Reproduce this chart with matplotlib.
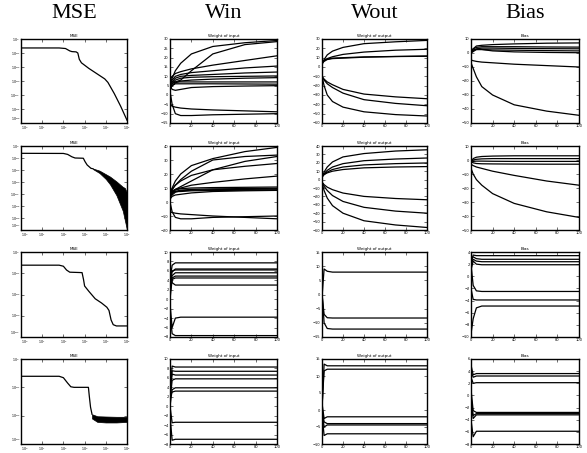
import matplotlib
matplotlib.use("Agg")
import matplotlib.pyplot as plt
import numpy as np

# ---------------- DATA ----------------
headers = ["MSE", "Win", "Wout", "Bias"]
titles = ["MSE", "Weight of input", "Weight of output", "Bias"]

# common epoch grid for the weight traces
TX = [0, 2, 5, 10, 20, 40, 70, 100]

# MSE curves (log10 epoch, log10 mse)
mse1_lx = [0, 1.8, 2.1, 2.3, 2.4, 2.6, 2.68, 2.75, 2.85, 3.2, 3.6, 3.95, 4.1, 4.4, 4.7, 5.0]
mse1_ly = [-0.64, -0.64, -0.68, -0.85, -0.9, -0.92, -1.0, -1.45, -1.7, -2.1, -2.5, -2.85, -3.1, -3.9, -4.8, -5.8]

mse2_lx = [0, 2.0, 2.2, 2.4, 2.55, 2.94, 3.02, 3.12, 3.3, 3.4]
mse2_ly = [-0.61, -0.62, -0.7, -0.9, -1.0, -1.02, -1.3, -1.58, -1.86, -1.9]
mse2_band_lx = [3.4, 3.7, 4.0, 4.2, 4.5, 4.8, 4.9, 5.0]
mse2_band_hi = [-1.88, -2.05, -2.35, -2.55, -2.95, -3.4, -3.5, -3.9]
mse2_band_lo = [-1.93, -2.25, -2.75, -3.2, -4.1, -5.4, -6.2, -7.0]

mse3_lx = [0, 1.8, 2.0, 2.15, 2.3, 2.88, 2.95, 3.0, 3.2, 3.5, 3.8, 4.05, 4.15, 4.25, 4.35, 4.5, 5.0]
mse3_ly = [-0.62, -0.62, -0.67, -0.85, -0.95, -0.97, -1.3, -1.6, -1.85, -2.2, -2.4, -2.6, -2.75, -3.2, -3.42, -3.48, -3.48]

mse4_lx = [0, 1.8, 2.0, 2.2, 2.35, 2.5, 3.18, 3.22, 3.28, 3.35]
mse4_ly = [-0.61, -0.61, -0.66, -0.85, -0.98, -1.0, -1.0, -1.3, -1.7, -1.95]
mse4_band_lx = [3.35, 3.6, 4.0, 4.5, 5.0]
mse4_band_hi = [-1.95, -2.02, -2.03, -2.04, -2.04]
mse4_band_lo = [-2.1, -2.22, -2.24, -2.24, -2.22]

mse_ylims = [(-6, 0), (-7, 0), (-4, 0), (-3, 0)]

# weight traces, each row: values at TX
win1 = [
    [6, 9, 13, 17, 22, 26, 28, 29.2],
    [4, 6, 7, 8, 13, 22, 27, 28.6],
    [8, 10, 11.5, 12.5, 14, 16, 18.5, 21],
    [6, 8, 10, 11, 12, 13, 14.5, 15.5],
    [5, 7, 9, 10, 10.5, 11, 11.8, 12.3],
    [4, 6, 8, 9, 9.5, 9.8, 10, 10.2],
    [3, 5, 6.5, 7.5, 8, 8.5, 9, 9.3],
    [6, 7, 7, 7, 7, 7, 7, 7],
    [3, 5, 6, 6, 6, 6, 5.9, 5.8],
    [5, 3, 2.5, 3, 4, 4.5, 4.8, 5],
    [-5, -6, -6.5, -7, -7.5, -8, -8.5, -9],
    [2, -5, -10, -11, -11, -10.6, -10.3, -10],
]
wout1 = [
    [2, 8, 13, 17, 21, 25, 27, 28.5],
    [4, 7, 9, 11, 13.5, 16, 18, 19],
    [4, 6, 8, 9, 9.5, 10.5, 11.2, 11.5],
    [5, 7, 8.5, 9.5, 10, 10.8, 11.3, 11.8],
    [-10, -13, -16, -19, -24, -29, -32, -34],
    [-10, -14, -18, -22, -28, -35, -39, -41.5],
    [-10, -20, -30, -37, -43, -48, -51, -52.5],
]
bias1 = [
    [0, 3, 5, 5.5, 6, 6.5, 7, 7.2],
    [1, 3, 4, 4.5, 4.5, 4.5, 4.3, 4.2],
    [0, 2, 3, 3.5, 3.5, 3.3, 3.1, 3],
    [1, 2, 2.5, 2.5, 2.2, 2, 1.7, 1.5],
    [0, 1, 2.5, 2.5, 1.5, 0.8, 0.4, 0.2],
    [-5, -5.5, -6, -6.5, -7, -8, -9, -10],
    [-7, -11, -17, -24, -30, -37, -41.5, -44.5],
]
win2 = [
    [5, 10, 15, 20, 26, 31, 36, 39],
    [6, 9, 12, 16, 22, 30, 32.5, 33.5],
    [5, 7, 9, 11, 15, 23, 29, 32.5],
    [7, 9, 12, 15, 19, 23, 25.5, 27.5],
    [6, 8, 9, 10, 12, 14, 16.5, 18.5],
    [5, 7, 8.5, 9.5, 10, 10.3, 10.5, 10.7],
    [4, 6, 7.5, 8.5, 9, 9.4, 9.6, 9.8],
    [3, 5, 7, 8, 8.5, 8.8, 9, 9.2],
    [6, 7, 7.5, 7.5, 8, 8.2, 8.4, 8.6],
    [2, 4, 5, 5.5, 6.5, 7.5, 8, 8.3],
    [-7, -7.5, -8, -8.5, -9, -10, -11, -12],
    [0, -7, -11, -12, -12, -11, -10.5, -10],
]
wout2 = [
    [2, 9, 15, 21, 27, 31, 34, 35.5],
    [3, 7, 11, 15, 19, 22.5, 24.5, 25.7],
    [3, 6, 9, 12, 15, 17.5, 19, 19.8],
    [4, 6, 8, 10, 12, 14, 15, 15.5],
    [-3, -6, -9, -12, -16, -20, -22.5, -24],
    [-3, -8, -13, -19, -26, -33, -37.5, -40],
    [-4, -13, -22, -31, -40, -49, -54, -57],
]
bias2 = [
    [-2, 1, 2, 2.5, 2.8, 3, 3, 3],
    [-1, 0, 0.5, 0.8, 1, 1, 1, 1],
    [-2, -1, -0.8, -0.8, -0.9, -1, -1, -1],
    [-1, -2, -2.5, -2.7, -2.8, -2.9, -3, -3],
    [-3, -4, -5, -6, -8, -11, -15, -18],
    [-6, -10, -14, -18, -24, -31, -37, -41],
]
win3 = [
    [4, 7.2, 7.7, 7.7, 7.7, 7.7, 7.7, 7.7],
    [3, 5.8, 6.4, 6.4, 6.4, 6.4, 6.4, 6.4],
    [5, 6.0, 6.2, 6.2, 6.2, 6.2, 6.2, 6.2],
    [2, 5.0, 5.6, 5.6, 5.6, 5.6, 5.6, 5.6],
    [1, 4.5, 4.9, 4.9, 4.9, 4.9, 4.9, 4.9],
    [0, 4.2, 4.5, 4.5, 4.5, 4.5, 4.5, 4.5],
    [6, 3.5, 3.0, 3.0, 3.0, 3.0, 3.0, 3.0],
    [-1, -6, -4.0, -3.8, -3.8, -3.8, -3.8, -3.8],
    [-3, -7.3, -7.7, -7.7, -7.7, -7.7, -7.7, -7.7],
]
wout3 = [
    [-1, 9, 8.2, 7.9, 7.9, 7.9, 7.9, 7.9],
    [0, -7, -8.2, -8.3, -8.3, -8.3, -8.3, -8.3],
    [1, -10, -12, -12.2, -12.2, -12.2, -12.2, -12.2],
]
bias3 = [
    [2, 3.5, 3.4, 3.4, 3.4, 3.4, 3.4, 3.4],
    [3, 3.2, 2.9, 2.8, 2.8, 2.8, 2.8, 2.8],
    [2, 2.8, 2.5, 2.4, 2.4, 2.4, 2.4, 2.4],
    [1, 2.5, 2.0, 1.9, 1.9, 1.9, 1.9, 1.9],
    [2, -1.5, -2.4, -2.5, -2.5, -2.5, -2.5, -2.5],
    [-2, -3.8, -3.9, -3.9, -3.9, -3.9, -3.9, -3.9],
    [-9.5, -7, -5.2, -4.9, -4.9, -4.9, -4.9, -4.9],
]
win4 = [
    [3, 8.5, 8.3, 8.3, 8.3, 8.3, 8.3, 8.3],
    [2, 7.5, 7.4, 7.4, 7.4, 7.4, 7.4, 7.4],
    [4, 6.8, 6.6, 6.6, 6.6, 6.6, 6.6, 6.6],
    [1, 5.5, 5.8, 5.8, 5.8, 5.8, 5.8, 5.8],
    [0, 3.5, 3.9, 3.9, 3.9, 3.9, 3.9, 3.9],
    [2, 3.0, 3.2, 3.2, 3.2, 3.2, 3.2, 3.2],
    [0, -3.5, -3.4, -3.4, -3.4, -3.4, -3.4, -3.4],
    [-2, -7.2, -7.0, -7.0, -7.0, -7.0, -7.0, -7.0],
]
wout4 = [
    [0, 13.5, 13, 13, 13, 13, 13, 13],
    [1, 11.5, 12, 12, 12, 12, 12, 12],
    [2, -2.5, -2.0, -2.0, -2.0, -2.0, -2.0, -2.0],
    [1, -3.5, -4.0, -4.0, -4.0, -4.0, -4.0, -4.0],
    [0, -5.0, -4.4, -4.4, -4.4, -4.4, -4.4, -4.4],
    [-1, -7.5, -7.0, -7.0, -7.0, -7.0, -7.0, -7.0],
]
bias4 = [
    [5, 3.4, 3.6, 3.6, 3.6, 3.6, 3.6, 3.6],
    [4, 3.0, 3.2, 3.2, 3.2, 3.2, 3.2, 3.2],
    [3, 2.0, 2.1, 2.1, 2.1, 2.1, 2.1, 2.1],
    [1, -2.5, -2.8, -2.8, -2.8, -2.8, -2.8, -2.8],
    [0, -3.3, -3.0, -3.0, -3.0, -3.0, -3.0, -3.0],
    [-1, -3.8, -3.2, -3.2, -3.2, -3.2, -3.2, -3.2],
    [-4, -6.8, -5.9, -5.9, -5.9, -5.9, -5.9, -5.9],
]

weights = [[win1, wout1, bias1], [win2, wout2, bias2],
           [win3, wout3, bias3], [win4, wout4, bias4]]
weight_ylims = [[(-15, 30, 5), (-60, 30, 10), (-50, 10, 10)],
                [(-20, 40, 10), (-60, 40, 10), (-50, 10, 10)],
                [(-8, 10, 2), (-15, 15, 5), (-10, 4, 2)],
                [(-8, 10, 2), (-10, 15, 5), (-8, 6, 2)]]

# ---------------- LAYOUT ----------------
W, H = 587, 453
col_x = [(21, 127), (170, 277), (322, 427), (471, 579)]
row_y = [(39, 123), (146, 230), (252, 337), (359, 444)]

fig = plt.figure(figsize=(W / 100, H / 100), dpi=100)
fig.patch.set_facecolor("white")

LW = 0.9
TFS = 2.6


def make_ax(r, c):
    x0, x1 = col_x[c]
    y0, y1 = row_y[r]
    ax = fig.add_axes([x0 / W, 1 - y1 / H, (x1 - x0) / W, (y1 - y0) / H])
    for s in ax.spines.values():
        s.set_linewidth(1.0)
    ax.tick_params(direction="in", length=2, width=0.4, labelsize=TFS,
                   top=True, right=True, pad=1.0)
    ax.tick_params(which="minor", length=0)
    ax.set_title(titles[c], fontsize=TFS + 0.4, pad=1.5)
    return ax


mse_data = [
    (mse1_lx, mse1_ly, None),
    (mse2_lx, mse2_ly, (mse2_band_lx, mse2_band_hi, mse2_band_lo)),
    (mse3_lx, mse3_ly, None),
    (mse4_lx, mse4_ly, (mse4_band_lx, mse4_band_hi, mse4_band_lo)),
]

for r in range(4):
    ax = make_ax(r, 0)
    ax.tick_params(labelsize=2.3, pad=0.8)
    lx, ly, band = mse_data[r]
    ax.loglog(10 ** np.array(lx), 10 ** np.array(ly), color="black", lw=LW)
    if band is not None:
        bx, bh, bl = band
        ax.fill_between(10 ** np.array(bx), 10 ** np.array(bl), 10 ** np.array(bh),
                        color="black", lw=0.5)
    lo, hi = mse_ylims[r]
    ax.set_xlim(1, 1e5)
    ax.set_ylim(10.0 ** lo, 10.0 ** hi)
    ax.set_xticks([10.0 ** k for k in range(0, 6)])
    ax.set_xticklabels([f"$10^{{{k}}}$" for k in range(0, 6)])
    ax.set_yticks([10.0 ** k for k in range(lo, hi + 1)])
    ylabels = ax.set_yticklabels([f"$10^{{{k}}}$" for k in range(lo, hi + 1)])
    ylabels[0].set_va("bottom")
    xlabels = ax.get_xticklabels()
    xlabels[0].set_ha("left")
    ax.minorticks_off()

    for c in range(1, 4):
        ax = make_ax(r, c)
        for line in weights[r][c - 1]:
            ax.plot(TX, line, color="black", lw=LW)
        ylo, yhi, step = weight_ylims[r][c - 1]
        ax.set_xlim(0, 100)
        ax.set_ylim(ylo, yhi)
        ax.set_xticks(range(0, 101, 20))
        ax.set_yticks(np.arange(ylo, yhi + step / 2, step))

for c in range(4):
    x0, x1 = col_x[c]
    fig.text((x0 + x1) / 2 / W, 1 - 14 / H, headers[c], ha="center", va="center",
             fontsize=16, family="Liberation Serif")

fig.savefig("out.png", dpi=100, facecolor="white")
